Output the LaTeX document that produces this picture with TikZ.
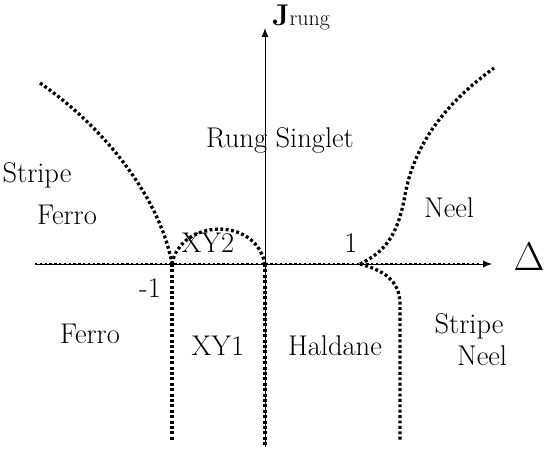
\RequirePackage{fix-cm}
\documentclass[tikz,border=0pt]{standalone}
\usetikzlibrary{arrows.meta}
\begin{document}
\begin{tikzpicture}[x=1pt,y=-1pt,
  lbl/.style={font=\fontsize{28.5}{32}\selectfont, inner sep=0pt, anchor=base},
  axisline/.style={line width=1pt, -{Latex[length=9pt,width=7pt]}},
  bnd/.style={line width=3.3pt, dash pattern=on 2.9pt off 2.5pt},
  axdot/.style={line width=2.6pt, dash pattern=on 2.4pt off 2.4pt}]
\useasboundingbox (0,0) rectangle (545,449);
% coordinates
\coordinate (xl) at (35,264);
\coordinate (xr) at (492,264);
\coordinate (yb) at (265,447);
\coordinate (yt) at (265,28);
\coordinate (o) at (265,264);
\coordinate (m1) at (172,264);
\coordinate (p1) at (360,264);
\coordinate (lt) at (40,83);
\coordinate (rt) at (494,68);
\coordinate (rm) at (405,195);
\coordinate (lb) at (172,440);
\coordinate (rb) at (400,440);
\coordinate (rk) at (400,305);
\coordinate (xe) at (480,264);
\coordinate (ye) at (265,445);
% dotted boundaries
\draw[axdot] (xl) -- (xe);
\draw[bnd] (o) -- (ye);
\draw[bnd] (lt) .. controls (105,128) and (160,198) .. (m1);
\draw[bnd] (m1) .. controls (180,220) and (255,215) .. (o);
\draw[bnd] (m1) -- (lb);
\draw[bnd] (p1) .. controls (385,252) and (398,235) .. (rm)
  .. controls (415,140) and (450,100) .. (rt);
\draw[bnd] (p1) .. controls (390,272) and (400,285) .. (rk) -- (rb);
% axes
\draw[axisline] (xl) -- (xr);
\draw[axisline] (yb) -- (yt);
% labels
\node[lbl] (rs) at (280,148) {Rung Singlet};
\node[lbl] (sfl) at (37,182) {Stripe};
\node[lbl] (fl) at (67,224) {Ferro};
\node[lbl] (nu) at (449,217) {Neel};
\node[lbl] (xy2) at (208,252) {XY2};
\node[lbl] (one) at (351,252) {1};
\node[lbl] (mone) at (150,297) {-1};
\node[lbl] (fb) at (90,343) {Ferro};
\node[lbl] (xy1) at (218,355) {XY1};
\node[lbl] (hal) at (335,355) {Haldane};
\node[lbl] (snr) at (469,333) {Stripe};
\node[lbl] (nr) at (482,365) {Neel};
\node[inner sep=0pt, anchor=base, font=\fontsize{40}{44}\selectfont] (delta) at (529,270) {$\Delta$};
\node[inner sep=0pt, anchor=base west] (jr) at (272,26) {{\fontsize{30}{32}\selectfont\bfseries J}{\fontsize{22}{24}\selectfont rung}};
\end{tikzpicture}
\end{document}
